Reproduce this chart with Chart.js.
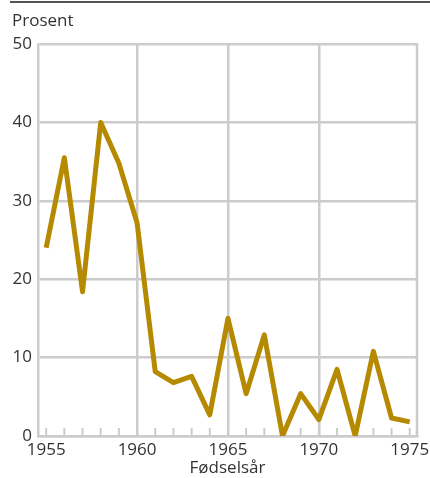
<!DOCTYPE html>
<html>
<head>
<meta charset="utf-8">
<script src="https://cdn.jsdelivr.net/npm/chart.js@4"></script>
<style>
  body { margin: 0; background: #fff; }
  #wrap { width: 430px; height: 478px; }
</style>
</head>
<body>
<div id="wrap"><canvas id="myChart" width="430" height="478"></canvas></div>
<script>
const years = [1955, 1956, 1957, 1958, 1959, 1960, 1961, 1962, 1963, 1964, 1965,
  1966, 1967, 1968, 1969, 1970, 1971, 1972, 1973, 1974, 1975];
const prosent = [24.0, 35.5, 18.4, 40.0, 34.8, 27.2, 8.2, 6.8, 7.6, 2.7, 15.0,
  5.4, 12.9, 0, 5.4, 2.1, 8.5, 0, 10.8, 2.3, 1.8];
const xTicks = [1955, 1960, 1965, 1970, 1975];
const yTicks = [0, 10, 20, 30, 40, 50];

const gridColor = '#cccccc';
const textColor = '#333333';
Chart.defaults.font.family = "'Open Sans', sans-serif";
Chart.defaults.font.size = 17;
Chart.defaults.color = textColor;

// topplinje, "Prosent", små årsstreker og høyre kant
const extras = {
  id: 'extras',
  beforeDatasetsDraw(chart) {
    const { ctx, chartArea, scales } = chart;
    ctx.save();
    ctx.strokeStyle = gridColor;
    ctx.lineWidth = 2;
    years.forEach(yr => {
      const x = scales.x.getPixelForValue(yr);
      ctx.beginPath();
      ctx.moveTo(x, chartArea.bottom);
      ctx.lineTo(x, chartArea.bottom - 8);
      ctx.stroke();
    });
    ctx.lineWidth = 2.5;
    ctx.beginPath();
    ctx.moveTo(chartArea.right, chartArea.top - 1);
    ctx.lineTo(chartArea.right, chartArea.bottom + 1);
    ctx.stroke();
    ctx.restore();
  },
  afterDraw(chart) {
    const { ctx } = chart;
    ctx.save();
    ctx.strokeStyle = '#1a1a1a';
    ctx.lineWidth = 1.5;
    ctx.beginPath();
    ctx.moveTo(10, 2);
    ctx.lineTo(430, 2);
    ctx.stroke();
    ctx.fillStyle = textColor;
    ctx.font = "17px 'Open Sans', sans-serif";
    ctx.textBaseline = 'alphabetic';
    ctx.fillText('Prosent', 12, 26);
    ctx.restore();
  }
};

new Chart(document.getElementById('myChart'), {
  type: 'line',
  data: {
    datasets: [{
      label: 'Prosent',
      data: years.map((yr, i) => ({ x: yr, y: prosent[i] })),
      borderColor: '#b58a00',
      borderWidth: 5,
      borderJoinStyle: 'round',
      pointRadius: 0,
      tension: 0,
      fill: false
    }]
  },
  options: {
    responsive: false,
    animation: false,
    layout: { padding: { top: 44, right: 13, left: 0, bottom: 0 } },
    plugins: {
      legend: { display: false },
      tooltip: { enabled: false }
    },
    scales: {
      x: {
        type: 'linear',
        min: 1954.55,
        max: 1975.4,
        afterBuildTicks: s => { s.ticks = xTicks.map(v => ({ value: v })); },
        afterFit: s => { s.height = 42; s.paddingLeft = 0; s.paddingRight = 0; },
        grid: {
          drawTicks: false,
          lineWidth: 2.5,
          color: c => (c.tick && (c.tick.value === 1955 || c.tick.value === 1975)) ? 'rgba(0,0,0,0)' : gridColor
        },
        border: { color: gridColor, width: 2.5 },
        ticks: { padding: 4, maxRotation: 0, callback: v => String(v) },
        title: { display: true, text: 'Fødselsår', padding: { top: -3, bottom: 0 } }
      },
      y: {
        min: 0,
        max: 50,
        afterBuildTicks: s => { s.ticks = yTicks.map(v => ({ value: v })); },
        afterFit: s => { s.width = 38; s.paddingTop = 0; s.paddingBottom = 0; },
        grid: { drawTicks: false, lineWidth: 2.5, color: gridColor },
        border: { color: gridColor, width: 2.5 },
        ticks: { padding: 6 }
      }
    }
  },
  plugins: [extras]
});
</script>
</body>
</html>
